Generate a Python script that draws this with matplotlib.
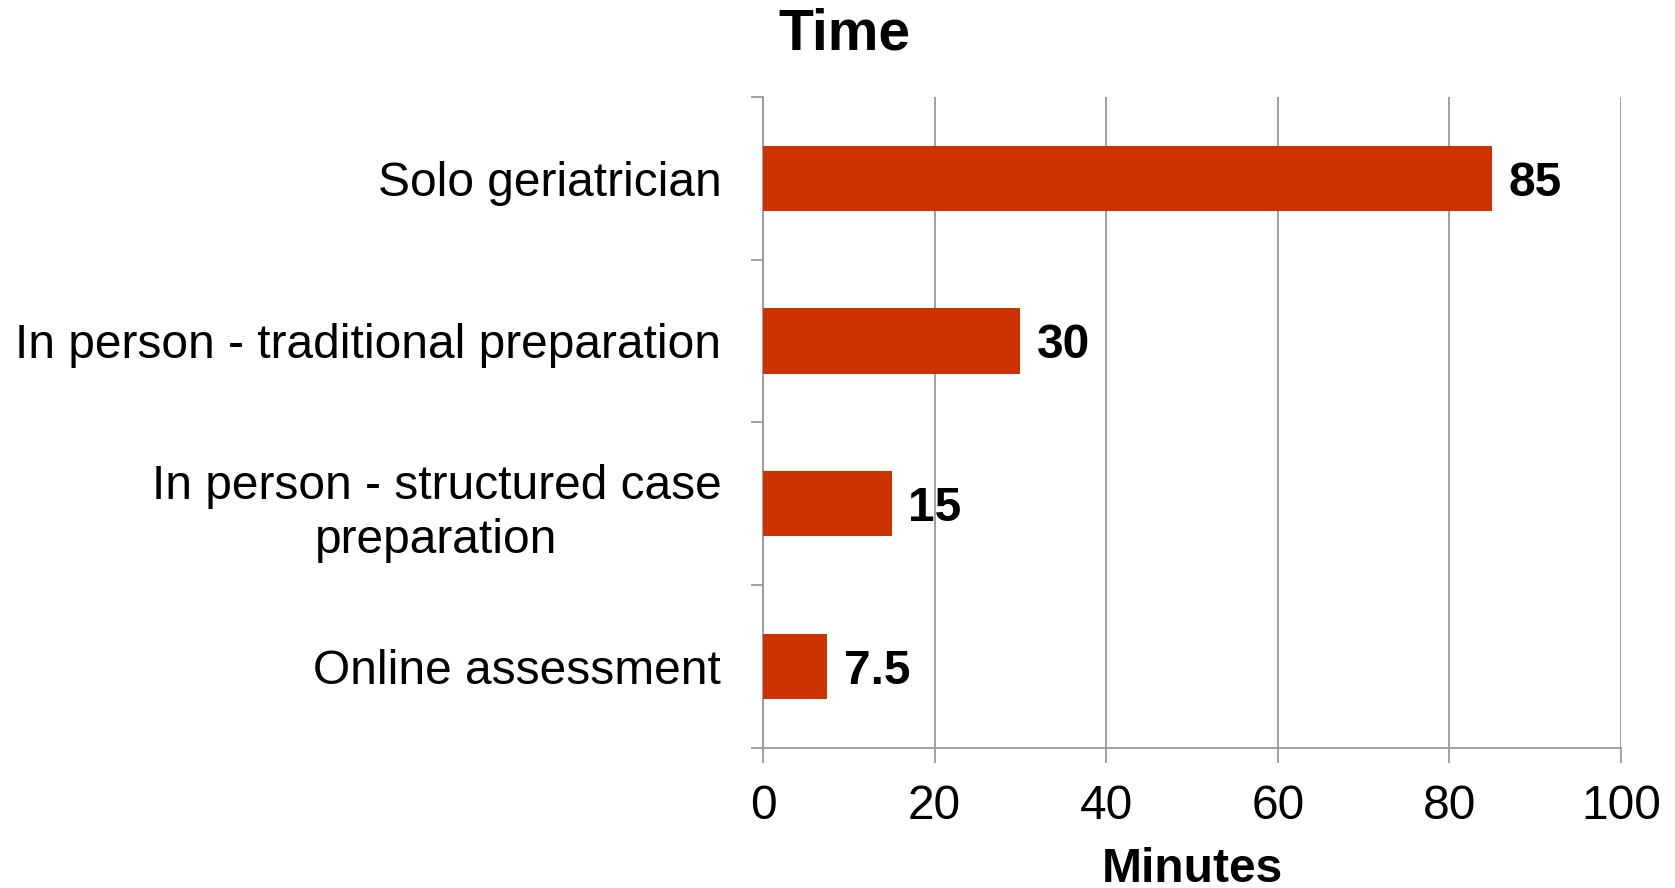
import matplotlib.pyplot as plt
from matplotlib.ticker import MultipleLocator, FixedLocator

plt.rcParams['font.family'] = ['Liberation Sans', 'DejaVu Sans']

categories = ['Solo geriatrician', 'In person - traditional preparation',
              'In person - structured case\npreparation', 'Online assessment']
minutes = [85, 30, 15, 7.5]
value_labels = ['85', '30', '15', '7.5']

fig = plt.figure(figsize=(16.75, 8.88), dpi=100)
ax = fig.add_axes([0.4555, 0.1577, 0.5123, 0.7333])

grey = '#999999'
fs = 34.5
pos = list(range(len(categories)))[::-1]
bars = ax.barh(pos, minutes, height=0.4, color='#CC3300', zorder=3)

ax.set_xlim(0, 100)
ax.set_ylim(-0.5, len(categories) - 0.5)
ax.xaxis.set_major_locator(MultipleLocator(20))
ax.grid(axis='x', color=grey, linewidth=1.3, zorder=0)
ax.set_axisbelow(True)

ax.set_yticks(pos)
ax.set_yticklabels(categories, fontsize=fs)
for t in ax.get_yticklabels():
    t.set_multialignment('center')
    t.set_linespacing(1.25)
ax.yaxis.set_minor_locator(FixedLocator([p - 0.5 for p in range(len(categories) + 1)]))
ax.tick_params(axis='y', which='major', length=0, pad=30)
ax.tick_params(axis='y', which='minor', length=9, width=1.3, color=grey, direction='out')
ax.tick_params(axis='x', labelsize=fs, length=11, width=1.3, color=grey, pad=15)

for s in ['top', 'right']:
    ax.spines[s].set_visible(False)
for s in ['left', 'bottom']:
    ax.spines[s].set_color(grey)
    ax.spines[s].set_linewidth(1.3)

for p, v, lab in zip(pos, minutes, value_labels):
    ax.text(v + 1.9, p, lab, va='center_baseline', ha='left', fontsize=fs, fontweight='bold')

ax.set_xlabel('Minutes', fontsize=fs, fontweight='bold', labelpad=13)
fig.text(844 / 1675, 1 - 34 / 888, 'Time', ha='center', va='center', fontsize=41, fontweight='bold')

fig.savefig('out.png', dpi=100)
